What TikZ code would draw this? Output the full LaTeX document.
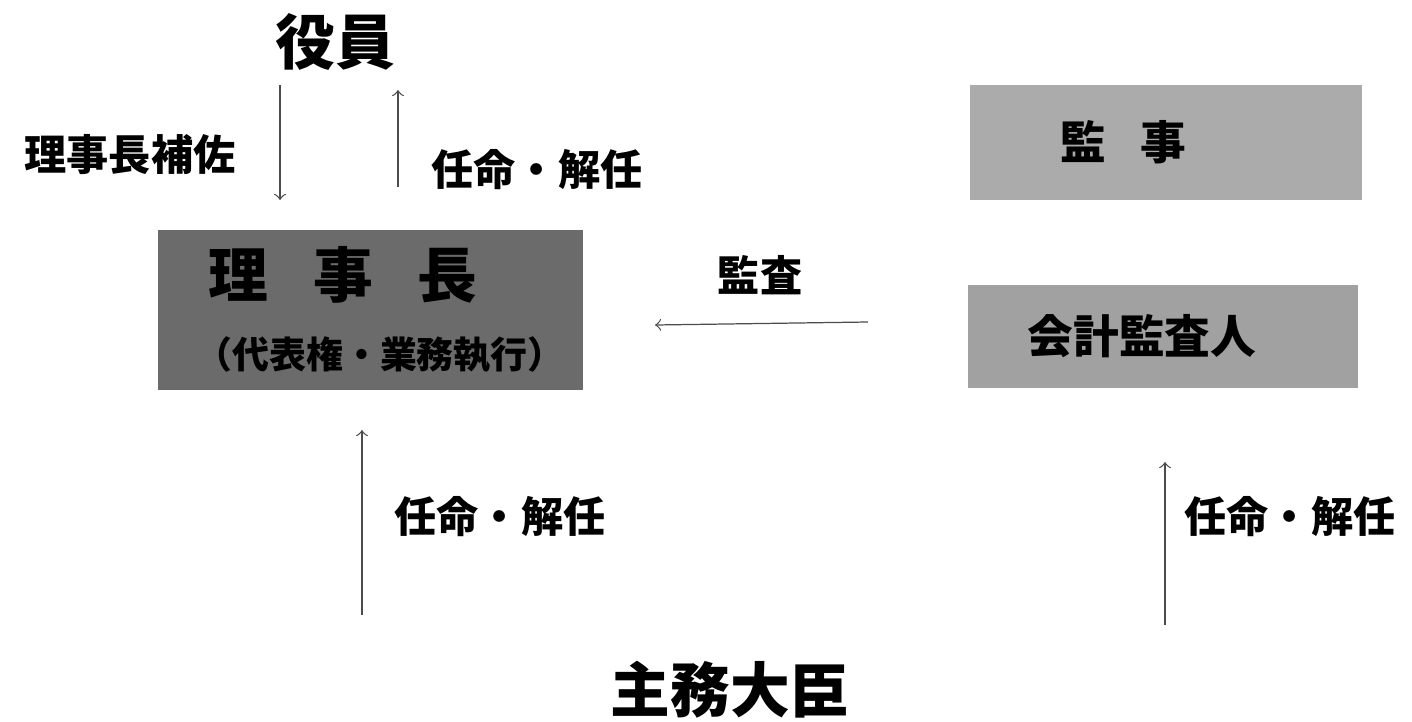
\documentclass[tikz,border=0pt]{standalone}
\usepackage{fontspec}
\setmainfont{Noto Sans CJK JP}
\begin{document}
\begin{tikzpicture}[x=1cm,y=1cm,
    lbl/.style={font=\bfseries\fontsize{12}{14}\selectfont},
    big/.style={font=\bfseries\fontsize{17}{20}\selectfont},
    box/.style={inner sep=0pt, align=center},
    link/.style={->, draw=black!70, line width=0.35pt}]
    \useasboundingbox (0,0) rectangle (14.12,7.21);
    \node[big] (yakuin) at (3.35,6.79) {役員};
    \node[big] (daijin) at (7.30,0.31) {主務大臣};
    \node[box, fill=black!58, minimum width=4.25cm, minimum height=1.6cm] (rijicho) at (3.705,4.11) {};
    \node[font=\bfseries\fontsize{17}{20}\selectfont] at (3.43,4.46) {理\hspace{0.75em}事\hspace{0.75em}長};
    \node[font=\bfseries\fontsize{10.5}{12}\selectfont] at (3.80,3.66) {（代表権・業務執行）};
    \node[box, fill=black!33, minimum width=3.92cm, minimum height=1.15cm, font=\bfseries\fontsize{13}{15}\selectfont] (kanji) at (11.66,5.785) {\hspace{-0.86cm}監\hspace{0.75em}事};
    \node[box, fill=black!37, minimum width=3.9cm, minimum height=1.03cm, font=\bfseries\fontsize{13}{15}\selectfont] (kaikei) at (11.63,3.845) {\hspace{-0.42cm}会計監査人};
    \node[lbl] (hosa) at (1.30,5.66) {理事長補佐};
    \node[lbl] (ninmei1) at (5.37,5.51) {任命・解任};
    \node[lbl] (kansa) at (7.60,4.46) {監査};
    \node[lbl] (ninmei2) at (5.00,2.04) {任命・解任};
    \node[lbl] (ninmei3) at (12.90,2.04) {任命・解任};
    \coordinate (a1) at (2.80,6.36);
    \coordinate (a2) at (2.80,5.21);
    \coordinate (b1) at (3.98,5.34);
    \coordinate (b2) at (3.98,6.31);
    \coordinate (c1) at (8.68,3.99);
    \coordinate (c2) at (6.55,3.96);
    \coordinate (d1) at (3.62,1.06);
    \coordinate (d2) at (3.62,2.91);
    \coordinate (e1) at (11.65,0.96);
    \coordinate (e2) at (11.65,2.59);
    \draw[link] (a1) -- (a2);
    \draw[link] (b1) -- (b2);
    \draw[link] (c1) -- (c2);
    \draw[link] (d1) -- (d2);
    \draw[link] (e1) -- (e2);
\end{tikzpicture}
\end{document}
